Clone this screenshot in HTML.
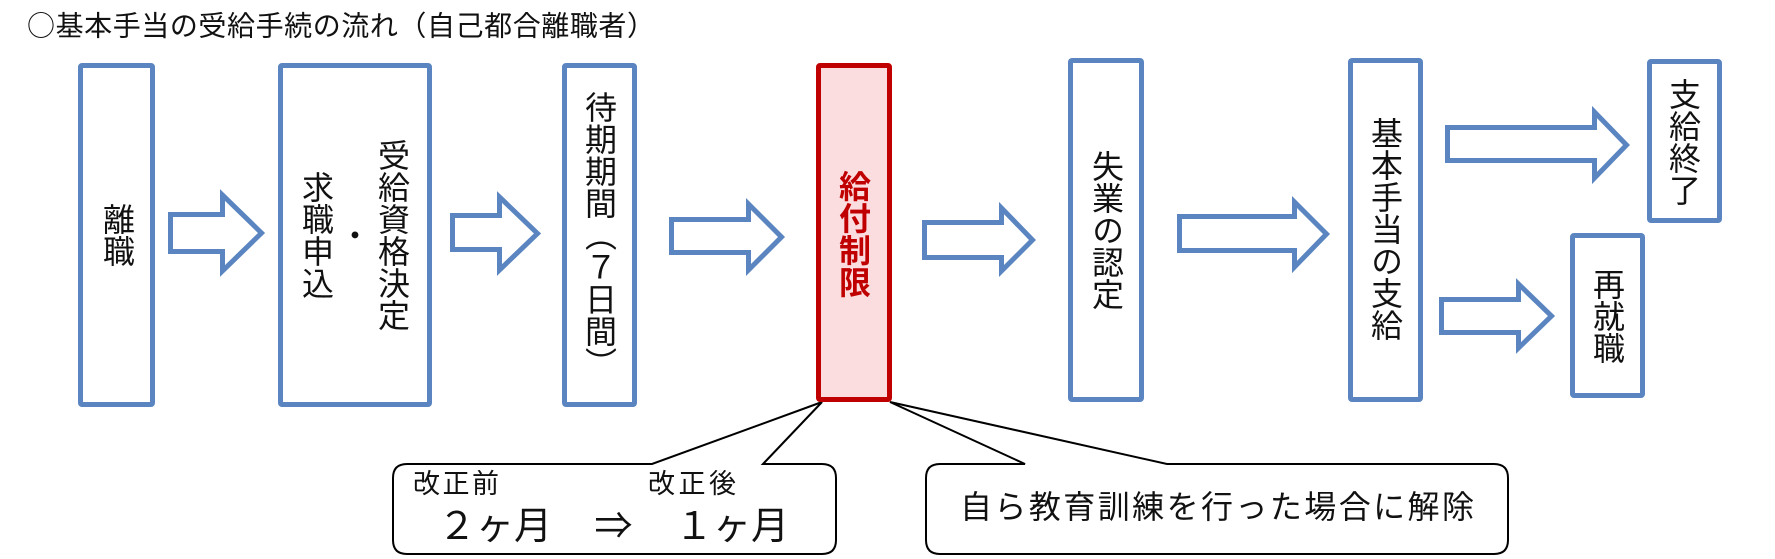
<!DOCTYPE html>
<html>
<head>
<meta charset="utf-8">
<style>
  html, body { margin:0; padding:0; background:#fff; }
  #wrap { position:relative; width:1775px; height:559px; overflow:hidden; background:#fff;
          font-family:"Liberation Sans","Noto Sans CJK JP",sans-serif; color:#111; }
  svg { position:absolute; left:0; top:0; }
  .v { position:absolute; writing-mode:vertical-rl; font-size:32px; line-height:32px; width:32px;
       white-space:nowrap; font-family:"Liberation Sans","Noto Sans CJK JP",sans-serif; color:#111; }
  .red { color:#C00000; font-weight:bold; }
</style>
</head>
<body>
<div id="wrap">
<svg width="1775" height="559" viewBox="0 0 1775 559" xmlns="http://www.w3.org/2000/svg">
  <!-- title -->
  <text x="27" y="35.5" font-size="28" textLength="628" fill="#111"
        font-family="Liberation Sans, Noto Sans CJK JP, sans-serif"><tspan font-family="Noto Sans CJK JP, sans-serif">○</tspan>基本手当の受給手続の流れ（自己都合離職者）</text>

  <!-- callouts -->
  <path d="M 763,464 L 822,402 L 652,464 H 407 Q 393,464 393,478 V 540 Q 393,554 407,554 H 822 Q 836,554 836,540 V 478 Q 836,464 822,464 Z"
        fill="#fff" stroke="#000" stroke-width="2" stroke-linejoin="miter"/>
  <path d="M 1025,464 L 890,402 L 1167,464 H 1494 Q 1508,464 1508,478 V 540 Q 1508,554 1494,554 H 940 Q 926,554 926,540 V 478 Q 926,464 940,464 Z"
        fill="#fff" stroke="#000" stroke-width="2" stroke-linejoin="miter"/>

  <g font-family="Liberation Sans, Noto Sans CJK JP, sans-serif" fill="#111">
    <text x="413" y="493" font-size="27" textLength="86">改正前</text>
    <text x="648" y="493" font-size="27" textLength="88">改正後</text>
    <text x="438" y="539" font-size="38">２ヶ月</text>
    <text x="613.5" y="539" font-size="38" text-anchor="middle" font-family="Noto Sans CJK JP, sans-serif">⇒</text>
    <text x="675" y="539" font-size="38">１ヶ月</text>
    <text x="960" y="518" font-size="32" textLength="514">自ら教育訓練を行った場合に解除</text>
  </g>

  <!-- boxes -->
  <g fill="#fff" stroke="#5A85C1" stroke-width="5">
    <rect x="80.5" y="65.5" width="72" height="339" rx="1.5"/>
    <rect x="280.5" y="65.5" width="149" height="339" rx="1.5"/>
    <rect x="564.5" y="65.5" width="70" height="339" rx="1.5"/>
    <rect x="1070.5" y="60.5" width="71" height="339" rx="1.5"/>
    <rect x="1350.5" y="60.5" width="70" height="339" rx="1.5"/>
    <rect x="1649.5" y="61.5" width="70" height="159" rx="1.5"/>
    <rect x="1572.5" y="235.5" width="70" height="160" rx="1.5"/>
  </g>
  <rect x="818.5" y="65.5" width="71" height="334" rx="1.5" fill="#FBDDE0" stroke="#C00000" stroke-width="5"/>

  <!-- arrows -->
  <g fill="#fff" stroke="#5A85C1" stroke-width="5" stroke-linejoin="miter" stroke-miterlimit="10">
    <polygon points="170.5,214.5 222.5,214.5 222.5,195 261.5,233 222.5,271 222.5,251.5 170.5,251.5"/>
    <polygon points="452.5,215.5 499.5,215.5 499.5,197 537.5,233.5 499.5,270 499.5,249.5 452.5,249.5"/>
    <polygon points="671.5,219.5 748.5,219.5 748.5,204 781.5,237 748.5,270 748.5,252.5 671.5,252.5"/>
    <polygon points="924.5,222.5 1001.5,222.5 1001.5,208 1032.5,240 1001.5,271 1001.5,257.5 924.5,257.5"/>
    <polygon points="1179.5,216.5 1294.5,216.5 1294.5,202 1326.5,234 1294.5,267 1294.5,250.5 1179.5,250.5"/>
    <polygon points="1447.5,127.5 1594.5,127.5 1594.5,112 1626.5,145 1594.5,178 1594.5,160.5 1447.5,160.5"/>
    <polygon points="1441.5,299.5 1518.5,299.5 1518.5,284 1551.5,316 1518.5,348 1518.5,332.5 1441.5,332.5"/>
  </g>
</svg>

<!-- vertical labels -->
<div class="v" style="left:101px; top:203px;">離職</div>
<div class="v" style="left:376px; top:139px;">受給資格決定</div>
<div class="v" style="left:337px; top:219px;">・</div>
<div class="v" style="left:300px; top:171px;">求職申込</div>
<div class="v" style="left:583px; top:91px;">待期期間（７日間）</div>
<div class="v red" style="left:837px; top:170px;">給付制限</div>
<div class="v" style="left:1090px; top:150px;">失業の認定</div>
<div class="v" style="left:1369px; top:117px;">基本手当の支給</div>
<div class="v" style="left:1667px; top:78px;">支給終了</div>
<div class="v" style="left:1591px; top:268px;">再就職</div>
</div>
</body>
</html>
